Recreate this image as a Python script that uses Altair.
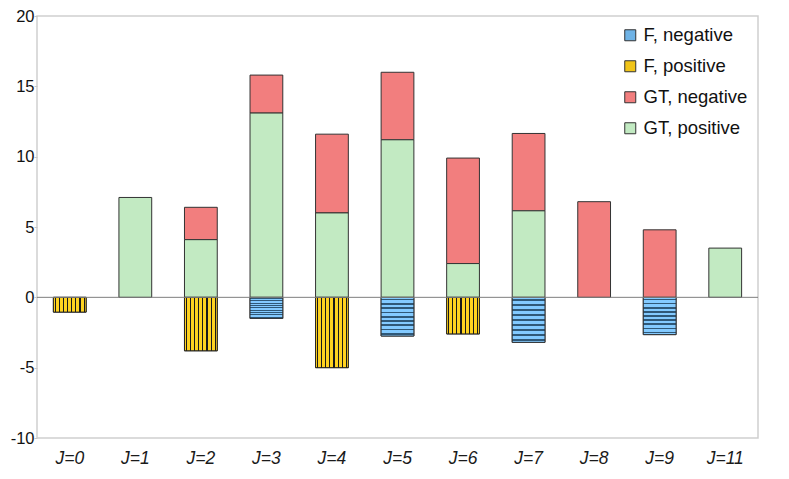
import altair as alt

categories = ["J=0", "J=1", "J=2", "J=3", "J=4", "J=5", "J=6", "J=7", "J=8", "J=9", "J=11"]
gt_positive = [0, 7.1, 4.1, 13.1, 6.0, 11.2, 2.4, 6.15, 0, 0, 3.5]
gt_negative = [0, 0, 2.3, 2.7, 5.6, 4.8, 7.5, 5.5, 6.8, 4.8, 0]
f_positive = [-1.05, 0, -3.8, 0, -5.0, 0, -2.6, 0, 0, 0, 0]
f_negative = [0, 0, 0, -1.5, 0, -2.75, 0, -3.2, 0, -2.65, 0]

series_names = ["F, negative", "F, positive", "GT, negative", "GT, positive"]
series_colors = ["#6fb3e6", "#f0c419", "#f27e7e", "#c2eac2"]
series_values = [f_negative, f_positive, gt_negative, gt_positive]
series_order = [0, 0, 1, 0]

records = []
for name, vals, ordv in zip(series_names, series_values, series_order):
    for cat, v in zip(categories, vals):
        if v != 0:
            records.append({"J": cat, "series": name, "value": v, "ord": ordv})

data = alt.Data(values=records)


def stripes(vertical, n, base, dark, lw):
    stops = []
    for i in range(n):
        c = (i + 0.5) / n
        a, b = c - lw / 2, c + lw / 2
        stops += [
            {"offset": a, "color": base},
            {"offset": a, "color": dark},
            {"offset": b, "color": dark},
            {"offset": b, "color": base},
        ]
    g = {"gradient": "linear", "stops": stops}
    if vertical:
        g.update({"x1": 0, "y1": 0, "x2": 1, "y2": 0})
    else:
        g.update({"x1": 0, "y1": 0, "x2": 0, "y2": 1})
    return g


FONT = "Liberation Sans"

x_enc = alt.X(
    "J:N",
    sort=categories,
    scale=alt.Scale(domain=categories, paddingInner=0.5, paddingOuter=0.25),
    axis=alt.Axis(
        title=None, labelAngle=0, ticks=False, domain=False,
        labelFont=FONT, labelFontSize=17.5, labelFontStyle="italic",
        labelColor="#1a1a1a", labelPadding=11,
    ),
)
y_enc = alt.Y(
    "value:Q",
    stack="zero",
    scale=alt.Scale(domain=[-10, 20], nice=False, zero=False),
    axis=alt.Axis(
        title=None, values=[-10, -5, 0, 5, 10, 15, 20], grid=False, domain=False,
        tickColor="#c8c8c8", tickSize=3, labelPadding=0,
        labelExpr="'' + datum.value",
        labelFont=FONT, labelFontSize=16.5, labelColor="#111111",
    ),
)

base = alt.Chart(data).mark_bar(stroke="#333333", strokeWidth=1).encode(
    x=x_enc,
    y=y_enc,
    color=alt.Color(
        "series:N",
        scale=alt.Scale(domain=series_names, range=series_colors),
        legend=alt.Legend(
            title=None, orient="top-right", offset=10, padding=0,
            labelFont=FONT, labelFontSize=18.5, labelColor="#111111",
            symbolType="square", symbolSize=121, symbolStrokeColor="#333333",
            symbolStrokeWidth=1, symbolOpacity=1, labelOffset=4, rowPadding=12,
        ),
    ),
    order=alt.Order("ord:Q"),
)

fpos_over = alt.Chart(data).transform_filter(
    alt.datum.series == "F, positive"
).mark_bar(
    fill=stripes(True, 8, "#ffd320", "#1a1a1a", 0.035),
    stroke="#222222", strokeWidth=1,
).encode(x=x_enc, y=y_enc)

fneg_over = alt.Chart(data).transform_filter(
    alt.datum.series == "F, negative"
).mark_bar(
    fill=stripes(False, 9, "#83caff", "#2f5878", 0.045),
    stroke="#333333", strokeWidth=1,
).encode(x=x_enc, y=y_enc)

zero = alt.Chart(alt.Data(values=[{"z": 0}])).mark_rule(
    color="#7f7f7f", strokeWidth=1
).encode(y=alt.datum(0))

chart = alt.layer(base, fpos_over, fneg_over, zero).properties(
    width=721,
    height=422,
    autosize=alt.AutoSizeParams(type="none"),
    padding={"left": 29, "top": 8, "right": 5, "bottom": 40},
).configure_view(
    stroke="#cfcfcf", strokeWidth=1.5
)

chart.save("out.html", embed_options={"renderer": "svg", "actions": False})
